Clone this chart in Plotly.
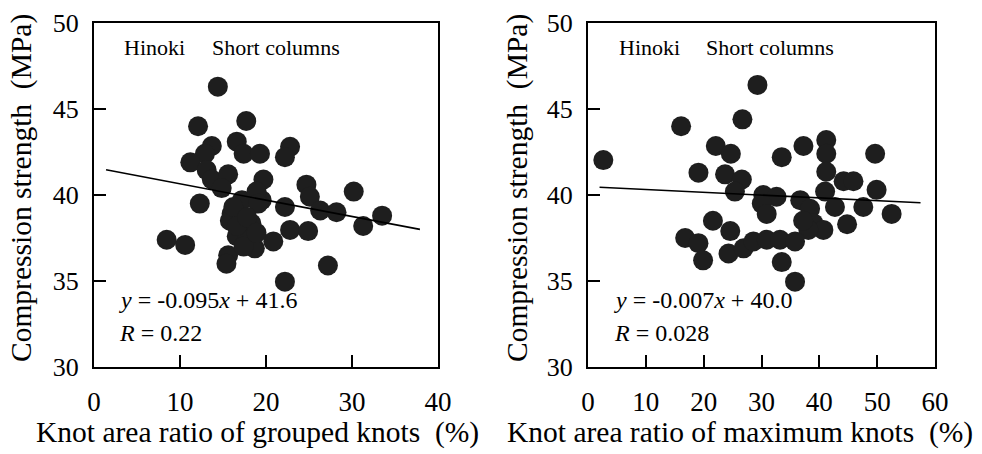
import plotly.graph_objects as go

# Left panel: grouped knots
grouped_x = [14.4, 12.1, 17.7, 13.7, 16.6, 12.9, 17.4, 19.3, 22.8, 22.2, 11.2, 13.1, 13.7, 15.6,
             14.85, 19.7, 24.7, 30.2, 12.3, 17.2, 19.5, 22.2, 25.1, 26.3, 28.2, 33.5, 31.3, 16.0,
             15.8, 18.3, 22.8, 24.9, 8.45, 10.6, 16.6, 17.75, 18.7, 20.85, 15.6, 15.4, 17.4, 27.2,
             22.2, 16.2, 16.6, 18.9, 19.1, 17.8, 18.9]
grouped_y = [46.3, 44.0, 44.3, 42.85, 43.1, 42.4, 42.4, 42.4, 42.8, 42.2, 41.9, 41.45, 40.9, 41.2,
             40.4, 40.9, 40.6, 40.2, 39.5, 39.7, 39.7, 39.3, 39.9, 39.1, 39.0, 38.8, 38.2, 38.9,
             38.5, 38.35, 37.97, 37.9, 37.4, 37.1, 37.6, 37.4, 36.9, 37.3, 36.5, 36.0, 37.0, 35.9,
             34.96, 39.3, 38.2, 40.2, 39.5, 38.7, 37.8]

# Right panel: maximum knots
max_x = [2.65, 29.3, 16.1, 26.7, 22.1, 24.7, 33.5, 37.25, 41.2, 41.2, 49.65, 19.1, 23.7, 26.6,
         41.2, 44.2, 45.9, 25.4, 30.3, 32.6, 41.0, 49.9, 36.7, 30.05, 38.4, 42.7, 47.6, 52.5,
         30.9, 21.6, 24.6, 44.8, 39.0, 40.7, 38.1, 16.8, 19.1, 19.9, 24.3, 26.9, 28.6, 30.9,
         33.2, 35.8, 33.5, 35.8, 37.2]
max_y = [42.03, 46.4, 44.0, 44.4, 42.85, 42.4, 42.2, 42.85, 43.2, 42.4, 42.4, 41.3, 41.2, 40.9,
         41.35, 40.8, 40.8, 40.2, 40.0, 39.9, 40.2, 40.3, 39.7, 39.5, 39.2, 39.3, 39.3, 38.9,
         38.9, 38.5, 37.9, 38.3, 38.35, 37.97, 37.97, 37.5, 37.2, 36.2, 36.6, 36.9, 37.3, 37.4,
         37.4, 37.3, 36.1, 34.96, 38.5]

# Regression lines (endpoints)
grouped_fit_x = [1.4, 37.9]
grouped_fit_y = [41.47, 38.0]
max_fit_x = [2.0, 57.5]
max_fit_y = [40.45, 39.55]

left_ticks = [0, 10, 20, 30, 40]
right_ticks = [0, 10, 20, 30, 40, 50, 60]
y_ticks = [30, 35, 40, 45, 50]

x_titles = ["Knot area ratio of grouped knots  (%)", "Knot area ratio of maximum knots  (%)"]
y_title = "Compression strength  (MPa)"

FONT = "Liberation Serif, Times New Roman, serif"
MC = "#1e1e1e"

fig = go.Figure()
fig.add_trace(go.Scatter(x=grouped_x, y=grouped_y, mode="markers",
                         marker=dict(size=20, color=MC), xaxis="x", yaxis="y", showlegend=False))
fig.add_trace(go.Scatter(x=grouped_fit_x, y=grouped_fit_y, mode="lines",
                         line=dict(color="black", width=1.6), xaxis="x", yaxis="y", showlegend=False))
fig.add_trace(go.Scatter(x=max_x, y=max_y, mode="markers",
                         marker=dict(size=20, color=MC), xaxis="x2", yaxis="y2", showlegend=False))
fig.add_trace(go.Scatter(x=max_fit_x, y=max_fit_y, mode="lines",
                         line=dict(color="black", width=1.6), xaxis="x2", yaxis="y2", showlegend=False))

W, H = 982, 454
ydom = [(H - 367) / H, (H - 23) / H]

axis_common = dict(showline=True, linecolor="black", linewidth=2, mirror=True,
                   ticks="inside", ticklen=12, tickwidth=2, tickcolor="black",
                   showgrid=False, zeroline=False, automargin=False)

xtickfont = dict(family=FONT, size=27, color="black")
ytickfont = dict(family=FONT, size=26, color="black")
titlefont = dict(family=FONT, size=29.5, color="black")

fig.update_layout(
    width=W, height=H,
    margin=dict(l=0, r=0, t=0, b=0),
    paper_bgcolor="white", plot_bgcolor="white",
    font=dict(family=FONT, color="black"),
    xaxis=dict(domain=[94 / W, 438 / W], range=[0, 40], tickvals=left_ticks, anchor="y",
               ticklabelstandoff=10, tickfont=xtickfont, **axis_common),
    yaxis=dict(domain=ydom, range=[30, 50], tickvals=y_ticks, anchor="x",
               ticklabelstandoff=8, tickfont=ytickfont, **axis_common),
    xaxis2=dict(domain=[588 / W, 935 / W], range=[0, 60], tickvals=right_ticks, anchor="y2",
                ticklabelstandoff=10, tickfont=xtickfont, **axis_common),
    yaxis2=dict(domain=ydom, range=[30, 50], tickvals=y_ticks, anchor="x2",
                ticklabelstandoff=8, tickfont=ytickfont, **axis_common),
)

ann_font = dict(family=FONT, size=22, color="black")
eq_font = dict(family=FONT, size=24, color="black")
annotations = [
    dict(x=3.3, y=48.6, xref="x", yref="y", text="Hinoki", font=ann_font),
    dict(x=13.5, y=48.6, xref="x", yref="y", text="Short columns", font=ann_font),
    dict(x=2.7, y=33.9, xref="x", yref="y", text="<i>y</i> = -0.095<i>x</i> + 41.6", font=eq_font),
    dict(x=2.7, y=31.98, xref="x", yref="y", text="<i>R</i> = 0.22", font=eq_font),
    dict(x=5.0, y=48.6, xref="x2", yref="y2", text="Hinoki", font=ann_font),
    dict(x=20.0, y=48.6, xref="x2", yref="y2", text="Short columns", font=ann_font),
    dict(x=4.15, y=33.9, xref="x2", yref="y2", text="<i>y</i> = -0.007<i>x</i> + 40.0", font=eq_font),
    dict(x=4.15, y=31.98, xref="x2", yref="y2", text="<i>R</i> = 0.028", font=eq_font),
]
for a in annotations:
    a.update(showarrow=False, xanchor="left", yanchor="middle")

# axis titles placed as paper annotations (positions as in the reference)
title_anns = [
    dict(x=257 / W, y=(H - 432) / H, text=x_titles[0]),
    dict(x=740 / W, y=(H - 432) / H, text=x_titles[1]),
    dict(x=21 / W, y=(H - 188) / H, text=y_title, textangle=-90),
    dict(x=517 / W, y=(H - 188) / H, text=y_title, textangle=-90),
]
for a in title_anns:
    a.update(xref="paper", yref="paper", showarrow=False, xanchor="center", yanchor="middle",
             font=titlefont)

fig.update_layout(annotations=annotations + title_anns)

fig.write_html("out.html", config={"displayModeBar": False},
               post_script="document.body.style.margin='0';document.body.style.overflow='hidden';")
